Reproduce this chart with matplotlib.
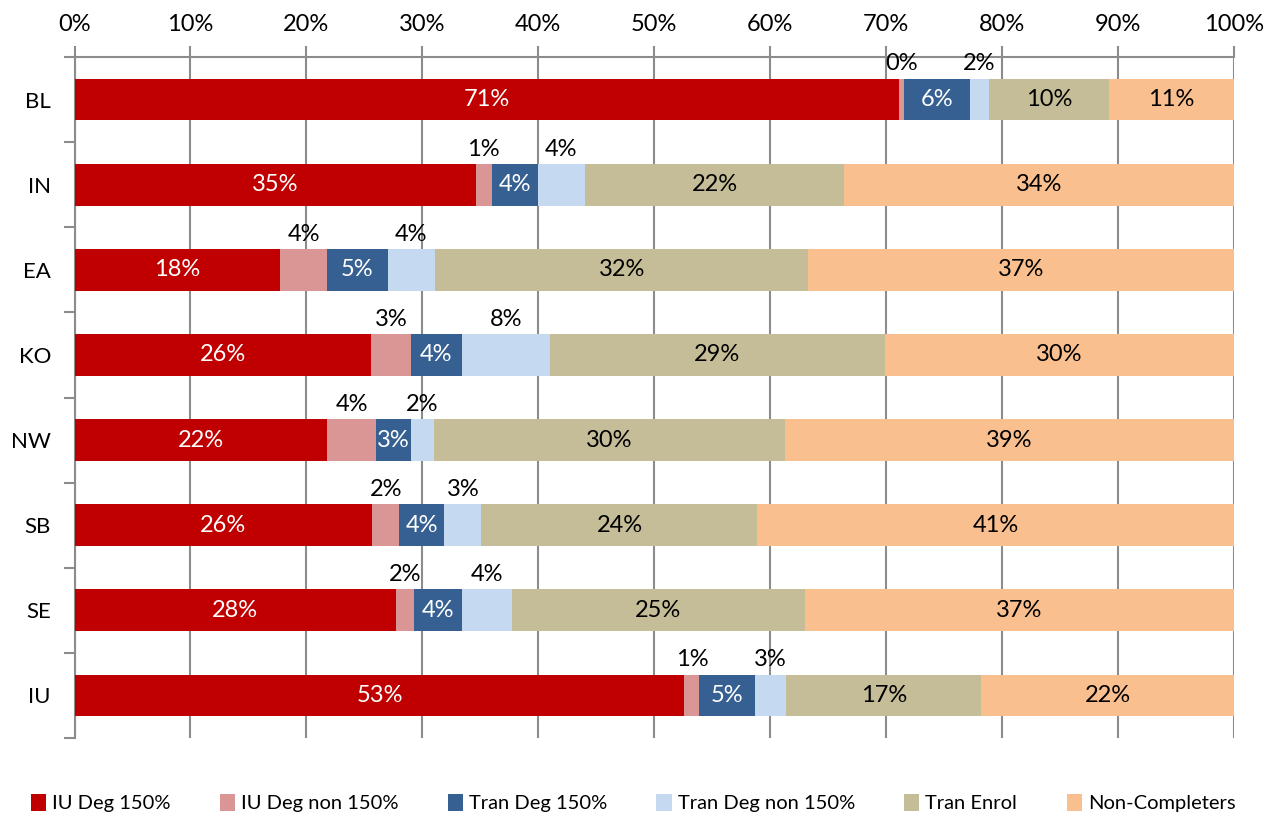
import numpy as np
import matplotlib.pyplot as plt
from matplotlib.patches import Patch

regions = ['BL', 'IN', 'EA', 'KO', 'NW', 'SB', 'SE', 'IU']

iu_deg_150 = [71.1, 34.6, 17.7, 25.6, 21.8, 25.7, 27.7, 52.6]
iu_deg_non150 = [0.4, 1.4, 4.1, 3.4, 4.2, 2.3, 1.6, 1.3]
tran_deg_150 = [5.7, 4.0, 5.2, 4.4, 3.0, 3.9, 4.1, 4.8]
tran_deg_non150 = [1.7, 4.0, 4.1, 7.6, 2.0, 3.2, 4.3, 2.7]
tran_enrol = [10.3, 22.4, 32.2, 28.9, 30.3, 23.8, 25.3, 16.8]
non_completers = [10.8, 33.6, 36.7, 30.1, 38.7, 41.1, 37.0, 21.8]

series_names = ['IU Deg 150%', 'IU Deg non 150%', 'Tran Deg 150%',
                'Tran Deg non 150%', 'Tran Enrol', 'Non-Completers']
colors = ['#C00000', '#DA9694', '#366092', '#C5D9F1', '#C4BD97', '#FABF8F']
text_colors = ['white', 'black', 'white', 'black', 'black', 'black']
above = [False, True, False, True, False, False]


def main():
    plt.rcParams['font.family'] = ['Lato', 'DejaVu Sans']
    grid_c = '#8C8C8C'
    fs = 17

    fig = plt.figure(figsize=(12.66, 8.17), dpi=100)
    ax = fig.add_axes([74.5 / 1266, 1 - 738 / 817, (1234 - 74.5) / 1266, (738 - 57) / 817])

    data = [iu_deg_150, iu_deg_non150, tran_deg_150, tran_deg_non150, tran_enrol, non_completers]
    y = np.arange(len(regions))
    bar_h = 0.49
    left = np.zeros(len(regions))
    for vals, name, c, tc, up in zip(data, series_names, colors, text_colors, above):
        vals = np.array(vals)
        ax.barh(y, vals, left=left, height=bar_h, color=c, label=name, zorder=3)
        for yi, l, v in zip(y, left, vals):
            txt = f'{v:.0f}%'
            if up:
                # small segments get their label just above the bar
                ax.text(l + v / 2, yi - bar_h / 2 - 0.05, txt, ha='center', va='bottom',
                        fontsize=fs, color='black', zorder=4)
            else:
                ax.text(l + v / 2, yi, txt, ha='center', va='center',
                        fontsize=fs, color=tc, zorder=4)
        left += vals

    ax.set_xlim(0, 100)
    ax.set_ylim(len(regions) - 0.5, -0.5)
    ax.set_xticks(np.arange(0, 101, 10))
    ax.set_xticklabels([f'{t}%' for t in range(0, 101, 10)])
    ax.xaxis.tick_top()
    ax.tick_params(axis='x', which='major', direction='out', length=8, width=1.5,
                   color=grid_c, labelsize=fs, pad=8)
    ax.xaxis.grid(True, color=grid_c, linewidth=1.5, zorder=0)

    ax.set_yticks(y)
    ax.set_yticklabels(regions)
    ax.set_yticks(np.arange(-0.5, len(regions), 1), minor=True)
    ax.tick_params(axis='y', which='major', length=0, labelsize=16, pad=17)
    ax.tick_params(axis='y', which='minor', length=8, width=1.5, color=grid_c, direction='out')

    for s in ['right', 'bottom']:
        ax.spines[s].set_visible(False)
    for s in ['top', 'left']:
        ax.spines[s].set_color(grid_c)
        ax.spines[s].set_linewidth(1.5)

    handles = [Patch(facecolor=c, label=n) for c, n in zip(colors, series_names)]
    fig.legend(handles=handles, loc='center', bbox_to_anchor=(0.5, 1 - 803 / 817), ncol=6,
               frameon=False, fontsize=14.5, handlelength=0.75, handleheight=0.9,
               handletextpad=0.3, columnspacing=2.45)

    fig.savefig('out.png', dpi=100)


if __name__ == '__main__':
    main()
